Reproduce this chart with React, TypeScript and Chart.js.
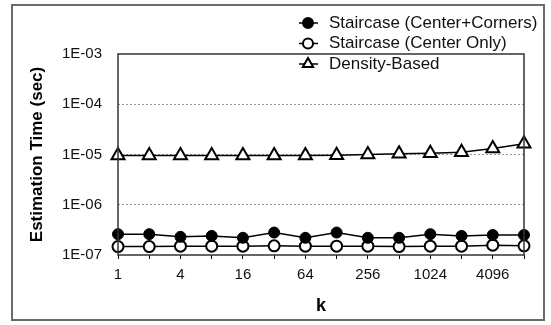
import React, { useEffect, useRef } from "react";
import { Chart, registerables } from "chart.js";
import { drawPoint } from "chart.js/helpers";

Chart.register(...registerables);

const kLabels = ["1", "2", "4", "8", "16", "32", "64", "128", "256", "512", "1024", "2048", "4096", "8192"];
const centerCorners = [2.6e-7, 2.6e-7, 2.3e-7, 2.4e-7, 2.2e-7, 2.8e-7, 2.2e-7, 2.8e-7, 2.2e-7, 2.2e-7, 2.6e-7, 2.4e-7, 2.5e-7, 2.5e-7];
const centerOnly = [1.47e-7, 1.47e-7, 1.5e-7, 1.5e-7, 1.5e-7, 1.52e-7, 1.5e-7, 1.5e-7, 1.5e-7, 1.47e-7, 1.5e-7, 1.5e-7, 1.57e-7, 1.52e-7];
const densityBased = [9.5e-6, 9.5e-6, 9.5e-6, 9.6e-6, 9.5e-6, 9.6e-6, 9.6e-6, 9.7e-6, 1.0e-5, 1.03e-5, 1.06e-5, 1.11e-5, 1.32e-5, 1.63e-5];
const yTicks = [1e-7, 1e-6, 1e-5, 1e-4, 1e-3];
const seriesNames = ["Staircase (Center+Corners)", "Staircase (Center Only)", "Density-Based"];

const FONT = "'Liberation Sans', Arial, Helvetica, sans-serif";

const framePlugin = {
  id: "frame",
  beforeDraw(chart: any) {
    const ctx = chart.ctx;
    ctx.save();
    ctx.fillStyle = "#ffffff";
    ctx.fillRect(0, 0, chart.width, chart.height);
    ctx.strokeStyle = "#6b6b6b";
    ctx.lineWidth = 2;
    ctx.strokeRect(12, 5, 532, 315);
    ctx.restore();
  },
  afterDatasetsDraw(chart: any) {
    const { ctx, chartArea: a } = chart;
    ctx.save();
    ctx.strokeStyle = "#333";
    ctx.lineWidth = 1.5;
    ctx.strokeRect(a.left, a.top, a.right - a.left, a.bottom - a.top);
    ctx.restore();
  },
  afterDraw(chart: any) {
    const ctx = chart.ctx;
    ctx.save();
    const rows = [23, 43.5, 64];
    chart.data.datasets.forEach((ds: any, i: number) => {
      const y = rows[i];
      ctx.strokeStyle = "#000";
      ctx.lineWidth = 1.5;
      ctx.beginPath();
      ctx.moveTo(299, y);
      ctx.lineTo(318, y);
      ctx.stroke();
      ctx.fillStyle = ds.pointBackgroundColor;
      ctx.strokeStyle = "#000";
      ctx.lineWidth = 2;
      drawPoint(ctx, { pointStyle: ds.pointStyle, rotation: 0, borderWidth: 2, radius: ds.pointStyle === "triangle" ? 6 : 5 }, 308, y);
      ctx.fillStyle = "#111";
      ctx.font = `17px ${FONT}`;
      ctx.textBaseline = "middle";
      ctx.textAlign = "left";
      ctx.fillText(ds.label, 329, y);
    });
    ctx.restore();
  },
};

export default function App() {
  const ref = useRef<HTMLCanvasElement>(null);
  useEffect(() => {
    const chart = new Chart(ref.current as HTMLCanvasElement, {
      type: "line",
      data: {
        labels: kLabels,
        datasets: [
          {
            label: seriesNames[0],
            data: centerCorners,
            borderColor: "#000",
            borderWidth: 1.5,
            pointStyle: "circle",
            pointRadius: 5.5,
            pointBackgroundColor: "#000",
            pointBorderColor: "#000",
            pointBorderWidth: 1,
          },
          {
            label: seriesNames[1],
            data: centerOnly,
            borderColor: "#000",
            borderWidth: 1.5,
            pointStyle: "circle",
            pointRadius: 5.5,
            pointBackgroundColor: "#fff",
            pointBorderColor: "#000",
            pointBorderWidth: 2,
          },
          {
            label: seriesNames[2],
            data: densityBased,
            borderColor: "#000",
            borderWidth: 1.5,
            pointStyle: "triangle",
            pointRadius: 7.5,
            pointBackgroundColor: "#fff",
            pointBorderColor: "#000",
            pointBorderWidth: 2,
          },
        ],
      } as any,
      plugins: [framePlugin],
      options: {
        responsive: false,
        animation: false,
        layout: { padding: { top: 54, right: 27, left: 0, bottom: 0 } },
        plugins: { legend: { display: false }, tooltip: { enabled: false } },
        scales: {
          x: {
            type: "category",
            offset: false,
            afterFit(scale: any) {
              scale.height = 70;
            },
            grid: { drawOnChartArea: false, drawTicks: true, tickLength: 4, color: "#000", lineWidth: 1 },
            border: { display: false },
            ticks: {
              autoSkip: false,
              maxRotation: 0,
              padding: 7,
              color: "#111",
              font: { family: FONT, size: 15 },
              callback: (_v: any, i: number) => (i % 2 === 0 ? kLabels[i] : ""),
            },
            title: {
              display: true,
              text: "k",
              color: "#000",
              font: { family: FONT, size: 18, weight: "bold" },
              padding: { top: 0, bottom: 8 },
            },
          },
          y: {
            type: "logarithmic",
            min: 1e-7,
            max: 1e-3,
            afterFit(scale: any) {
              scale.width = 118;
            },
            afterBuildTicks(scale: any) {
              scale.ticks = yTicks.map((v) => ({ value: v, major: true }));
            },
            grid: {
              drawTicks: false,
              lineWidth: 1,
              color: (c: any) => (c.tick && (c.tick.value === 1e-7 || c.tick.value === 1e-3) ? "rgba(0,0,0,0)" : "#9a9a9a"),
            },
            border: { display: false, dash: [2, 2] },
            ticks: {
              padding: 16,
              color: "#111",
              font: { family: FONT, size: 15 },
              callback: (v: any) => {
                const e = Math.round(Math.log10(Number(v)));
                const s = Math.abs(e) < 10 ? "0" + Math.abs(e) : String(Math.abs(e));
                return "1E" + (e < 0 ? "-" : "+") + s;
              },
            },
            title: {
              display: true,
              text: "Estimation Time (sec)",
              color: "#000",
              font: { family: FONT, size: 17, weight: "bold" },
              padding: { top: 27, bottom: 0 },
            },
          },
        },
      } as any,
    });
    return () => chart.destroy();
  }, []);
  return (
    <div style={{ position: "fixed", left: 0, top: 0, width: 551, height: 325 }}>
      <canvas ref={ref} width={551} height={325} />
    </div>
  );
}
